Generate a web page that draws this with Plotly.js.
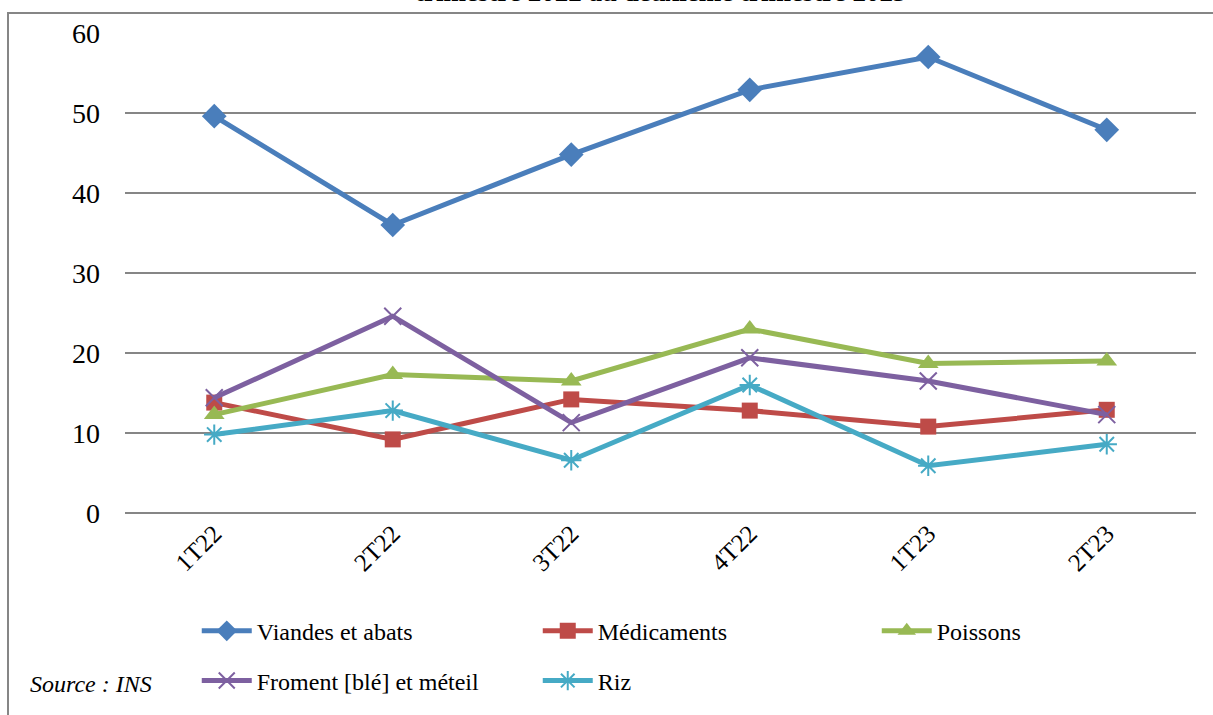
<!DOCTYPE html>
<html>
<head>
<meta charset="utf-8">
<script src="https://cdn.plot.ly/plotly-3.0.1.min.js"></script>
<style>html,body{margin:0;padding:0;background:#fff;}#chart{width:1213px;height:715px;}
#chart text{font-family:'Liberation Serif','Times New Roman',serif !important;}
</style>
</head>
<body>
<div id="chart"></div>
<script>
const categories = ["1T22", "2T22", "3T22", "4T22", "1T23", "2T23"];
const viandes = [49.6, 36.0, 44.8, 52.9, 57.0, 47.9];
const medicaments = [13.8, 9.2, 14.2, 12.8, 10.8, 12.9];
const poissons = [12.3, 17.3, 16.5, 23.0, 18.7, 19.0];
const froment = [14.4, 24.6, 11.3, 19.4, 16.5, 12.3];
const riz = [9.8, 12.8, 6.6, 16.0, 5.9, 8.6];
const seriesNames = ["Viandes et abats", "Médicaments", "Poissons", "Froment [blé] et méteil", "Riz"];
const titleText = "trimestre 2022 au deuxième trimestre 2023";
const sourceText = "Source : INS";

const FONT = "Liberation Serif";

function tr(name, y, color, symbol, size, legend, openSym) {
  return {
    type: "scatter", mode: "lines+markers", name: name, x: categories, y: y,
    legend: legend,
    line: {color: color, width: 5},
    marker: {symbol: symbol, size: size, color: color, line: {color: color, width: openSym ? 2 : 0}}
  };
}

const data = [
  tr(seriesNames[0], viandes, "#4A7EBB", "diamond", 19, "legend", false),
  tr(seriesNames[1], medicaments, "#BE4B48", "square", 16, "legend", false),
  tr(seriesNames[2], poissons, "#98B954", "triangle-up", 18, "legend3", false),
  tr(seriesNames[3], froment, "#7D60A0", "x-thin-open", 17, "legend2", true),
  tr(seriesNames[4], riz, "#46AAC5", "asterisk-open", 17, "legend2", true)
];

const legendCommon = {
  orientation: "h", xanchor: "left", yanchor: "middle",
  font: {family: FONT, size: 24, color: "#000"},
  entrywidth: 276, entrywidthmode: "pixels",
  bgcolor: "rgba(0,0,0,0)", itemwidth: 50, itemclick: false
};

const L1 = (516 - 635) / 483, L2 = (516 - 685) / 483;
const layout = {
  width: 1213, height: 715,
  margin: {l: 125, r: 17, t: 33, b: 199},
  paper_bgcolor: "#fff", plot_bgcolor: "#fff",
  font: {family: FONT, color: "#000"},
  showlegend: true,
  legend: Object.assign({}, legendCommon, {x: 0.067, y: L1}),
  legend2: Object.assign({}, legendCommon, {x: 0.067, y: L2}),
  legend3: Object.assign({}, legendCommon, {x: 0.067 + 340 / 1071 * 2, y: L1, entrywidth: 100}),
  xaxis: {
    type: "category", range: [-0.5, 5.5], tickangle: -45,
    tickfont: {family: FONT, size: 25, color: "#000"},
    showgrid: false, showline: false, zeroline: false, ticks: "", ticklen: 0
  },
  yaxis: {
    range: [0, 60], dtick: 10, tick0: 0,
    tickfont: {family: FONT, size: 28, color: "#000"},
    showgrid: true, gridcolor: "#868686", gridwidth: 2,
    zeroline: true, zerolinecolor: "#868686", zerolinewidth: 2,
    showline: false, ticks: "", ticklabelstandoff: 24
  },
  shapes: [{
    type: "rect", xref: "paper", yref: "paper",
    x0: (8 - 125) / 1071, x1: (1230 - 125) / 1071,
    y0: (516 - 730) / 483, y1: (516 - 13) / 483,
    line: {color: "#868686", width: 2}, fillcolor: "rgba(0,0,0,0)", layer: "below"
  }],
  annotations: [
    {text: "<b>" + titleText + "</b>", xref: "paper", yref: "paper",
     x: 0.5, y: (516 - 9) / 483, xanchor: "center", yanchor: "bottom",
     showarrow: false, font: {family: FONT, size: 27, color: "#000"}},
    {text: "<i>" + sourceText + "</i>", xref: "paper", yref: "paper",
     x: (28 - 125) / 1071, y: (516 - 688) / 483, xanchor: "left", yanchor: "middle",
     showarrow: false, font: {family: FONT, size: 24, color: "#000"}}
  ]
};

Plotly.newPlot("chart", data, layout, {displayModeBar: false, staticPlot: true});
</script>
</body>
</html>
